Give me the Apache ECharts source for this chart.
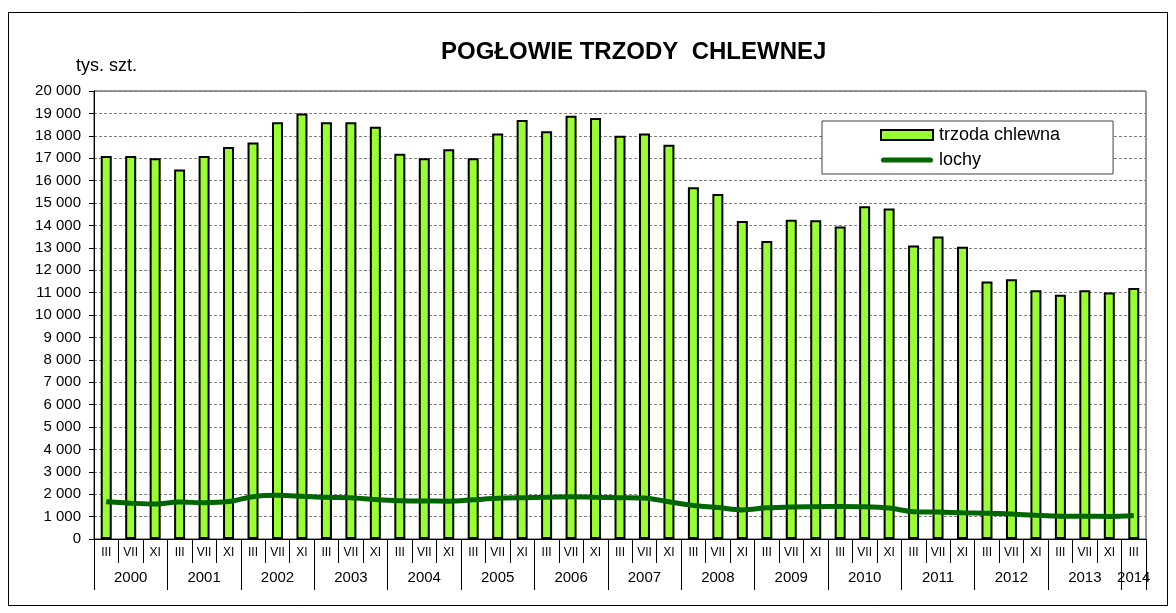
<!DOCTYPE html>
<html>
<head>
<meta charset="utf-8">
<script src="https://cdn.jsdelivr.net/npm/echarts@6/dist/echarts.min.js"></script>
<style>
  html, body { margin: 0; padding: 0; background: #fff; }
  #chart { width: 1176px; height: 613px; }
</style>
</head>
<body>
<div id="chart"></div>
<script>
// ==================== DATA ====================
const years = ['2000', '2001', '2002', '2003', '2004', '2005', '2006', '2007',
  '2008', '2009', '2010', '2011', '2012', '2013', '2014'];
const months = ['III', 'VII', 'XI'];

// tys. szt.
const trzoda = [
  17100, 17100, 17000, 16500, 17100, 17500, 17700, 18600, 19000,
  18600, 18600, 18400, 17200, 17000, 17400, 17000, 18100, 18700,
  18200, 18900, 18800, 18000, 18100, 17600, 15700, 15400, 14200,
  13300, 14250, 14230, 13950, 14850, 14750, 13100, 13500, 13050,
  11500, 11600, 11100, 10900, 11100, 11000, 11200
];
const lochy = [
  1660, 1600, 1560, 1650, 1620, 1670, 1890, 1950, 1910,
  1860, 1840, 1760, 1710, 1700, 1690, 1750, 1820, 1845,
  1860, 1890, 1860, 1845, 1830, 1660, 1500, 1410, 1300,
  1390, 1430, 1440, 1450, 1440, 1380, 1220, 1205, 1170,
  1150, 1115, 1060, 1020, 1020, 1010, 1050
];

// category labels: month row + year row
const monthCats = [], yearCats = [];
years.forEach(y => {
  const ms = y === '2014' ? ['III'] : months;
  ms.forEach(m => { monthCats.push(m); yearCats.push(y); });
});
const lastIdx = monthCats.length - 1;

const FONT = "'Liberation Sans', Arial, sans-serif";
const fmtK = v => String(v).replace(/\B(?=(\d{3})+(?!\d))/g, ' ');
const LINE_ICON = 'path://M5,0h90a5,5 0 0 1 0,10h-90a5,5 0 0 1 0,-10z';

const chart = echarts.init(document.getElementById('chart'));
chart.setOption({
  animation: false,
  backgroundColor: '#fff',
  textStyle: { fontFamily: FONT, color: '#000' },
  title: {
    text: 'POGŁOWIE TRZODY  CHLEWNEJ',
    left: 436, top: 35,
    textStyle: { fontFamily: FONT, fontSize: 24, fontWeight: 'bold', color: '#000' }
  },
  graphic: [
    { type: 'rect', shape: { x: 8.5, y: 12.5, width: 1159, height: 593 },
      style: { fill: 'none', stroke: '#000', lineWidth: 1 }, silent: true, z: -1 }
  ],
  legend: {
    orient: 'vertical',
    left: 822, top: 121,
    padding: [5, 53, 5, 58],
    itemGap: 7,
    itemWidth: 52, itemHeight: 10,
    backgroundColor: '#fff',
    borderColor: '#404040', borderWidth: 1,
    textStyle: { fontFamily: FONT, fontSize: 18, color: '#000', padding: [0, 0, 0, 1] },
    data: [
      { name: 'trzoda chlewna', icon: 'rect' },
      { name: 'lochy', icon: LINE_ICON, itemStyle: { color: '#006600', borderWidth: 0 } }
    ]
  },
  grid: { left: 94, right: 30, top: 91, bottom: 74, show: true, borderColor: '#333', borderWidth: 1 },
  xAxis: [
    {
      type: 'category', data: monthCats, position: 'bottom',
      axisLine: { lineStyle: { color: '#000', width: 1 } },
      axisTick: { show: true, interval: 0, length: 24, lineStyle: { color: '#000' } },
      axisLabel: { interval: 0, margin: 8, fontSize: 12, color: '#000', fontFamily: FONT }
    },
    {
      type: 'category', data: yearCats, position: 'bottom', offset: 0,
      axisLine: { show: false },
      axisTick: { show: true, interval: i => i % 3 === 0, length: 51, lineStyle: { color: '#000' } },
      axisLabel: {
        interval: i => i % 3 === 1 || i === lastIdx,
        margin: 31, fontSize: 15, color: '#000', fontFamily: FONT
      }
    }
  ],
  yAxis: {
    type: 'value', min: 0, max: 20000, interval: 1000,
    name: 'tys. szt.', nameLocation: 'end', nameGap: 16,
    nameTextStyle: { fontFamily: FONT, fontSize: 18, color: '#000', align: 'center', padding: [0, 0, 0, 25] },
    axisLine: { show: true, lineStyle: { color: '#000' } },
    axisTick: { show: true, length: 5, lineStyle: { color: '#000' } },
    axisLabel: { margin: 13, fontSize: 15, color: '#000', fontFamily: FONT, formatter: fmtK },
    splitLine: { show: true, lineStyle: { color: '#808080', type: [3, 2], width: 1 } }
  },
  series: [
    {
      name: 'trzoda chlewna', type: 'bar', data: trzoda, barWidth: 11,
      itemStyle: { color: '#99FF33', borderColor: '#000', borderWidth: 2 }
    },
    {
      name: 'lochy', type: 'line', data: lochy, smooth: 0.3, symbol: 'none',
      lineStyle: { color: '#006600', width: 5 }, itemStyle: { color: '#006600' }, z: 3
    }
  ]
});
</script>
</body>
</html>
